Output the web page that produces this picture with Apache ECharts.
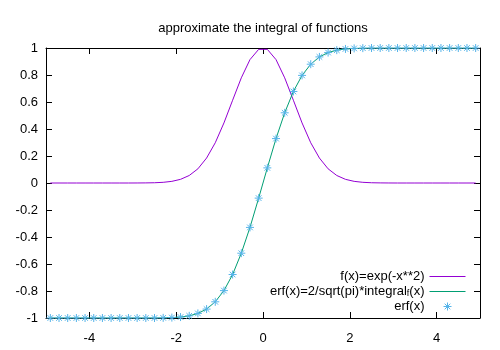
<!DOCTYPE html>
<html><head><meta charset="utf-8">
<script src="https://cdn.jsdelivr.net/npm/echarts@6/dist/echarts.min.js"></script>
<style>html,body{margin:0;padding:0;background:#fff}#c{width:500px;height:350px}</style>
</head><body><div id="c"></div>
<script>
const xs = [-4.9,-4.7,-4.5,-4.3,-4.1,-3.9,-3.7,-3.5,-3.3,-3.1,-2.9,-2.7,-2.5,-2.3,-2.1,-1.9,-1.7,-1.5,-1.3,-1.1,-0.9,-0.7,-0.5,-0.3,-0.1,
            0.1,0.3,0.5,0.7,0.9,1.1,1.3,1.5,1.7,1.9,2.1,2.3,2.5,2.7,2.9,3.1,3.3,3.5,3.7,3.9,4.1,4.3,4.5,4.7,4.9];
const fVals = [0,0,0,0,0,0,0,0,0,0,0.0002,0.0007,0.0019,0.005,0.0122,0.0271,0.0556,0.105,0.185,0.298,0.445,0.613,0.779,0.914,0.990,
               0.990,0.914,0.779,0.613,0.445,0.298,0.185,0.105,0.0556,0.0271,0.0122,0.005,0.0019,0.0007,0.0002,0,0,0,0,0,0,0,0,0,0];
const erfLineVals = [-1,-1,-1,-1,-1,-1,-1,-1,-1,-1,-1,-1,-1,-0.999,-0.997,-0.993,-0.984,-0.966,-0.934,-0.880,-0.797,-0.678,-0.520,-0.329,-0.112,
                     0.112,0.329,0.520,0.678,0.797,0.880,0.934,0.966,0.984,0.993,0.997,0.999,1,1,1,1,1,1,1,1,1,1,1,1,1];
const erfPtVals = [-1,-1,-1,-1,-1,-1,-1,-1,-1,-1,-1,-1,-1,-0.999,-0.997,-0.993,-0.984,-0.966,-0.934,-0.880,-0.797,-0.678,-0.520,-0.329,-0.112,
                   0.112,0.329,0.520,0.678,0.797,0.880,0.934,0.966,0.984,0.993,0.997,0.999,1,1,1,1,1,1,1,1,1,1,1,1,1];
const xTicks = [-4,-2,0,2,4];
const yTicks = [-1,-0.8,-0.6,-0.4,-0.2,0,0.2,0.4,0.6,0.8,1];
const seriesNames = ['f(x)=exp(-x**2)','erf(x)=2/sqrt(pi)*integral_f(x)','erf(x)'];
const titleText = 'approximate the integral of functions';

const FONT = 'Liberation Sans, Arial, sans-serif';
const FS = 13;
const pair = v => xs.map((x,i)=>[x,v[i]]);
const star = 'path://M4,0L4,8M0,4L8,4M1.2,1.2L6.8,6.8M1.2,6.8L6.8,1.2';

function xAx(pos, labels){
  return {type:'value', min:-5, max:5, position:pos,
    axisLine:{onZero:false, lineStyle:{color:'#000', width:1}},
    axisTick:{inside:true, length:6, customValues:xTicks, lineStyle:{color:'#000'}},
    axisLabel:{show:labels, customValues:xTicks, color:'#000', fontSize:FS, fontFamily:FONT, margin:14},
    splitLine:{show:false}};
}
function yAx(pos, labels){
  return {type:'value', min:-1, max:1, position:pos,
    axisLine:{onZero:false, lineStyle:{color:'#000', width:1}},
    axisTick:{inside:true, length:6, customValues:yTicks, lineStyle:{color:'#000'}},
    axisLabel:{show:labels, customValues:yTicks, color:'#000', fontSize:FS, fontFamily:FONT, margin:8,
      formatter: v => String(Math.round(v*10)/10)},
    splitLine:{show:false}};
}

const chart = echarts.init(document.getElementById('c'), null, {renderer:'canvas'});
chart.setOption({
  animation:false,
  backgroundColor:'#fff',
  title:{text:titleText, left:263, textAlign:'center', top:22, padding:0,
    textStyle:{fontSize:FS, fontWeight:'normal', color:'#000', fontFamily:FONT}},
  grid:{left:46, right:20, top:48, bottom:32, containLabel:false},
  xAxis:[xAx('bottom', true), xAx('top', false)],
  yAxis:[yAx('left', true), yAx('right', false)],
  legend:{orient:'vertical', align:'right', right:29, top:265, itemWidth:36, itemHeight:10, itemGap:2,
    lineStyle:{width:1},
    data:[
      {name:seriesNames[0], itemStyle:{opacity:0}},
      {name:seriesNames[1], itemStyle:{opacity:0}},
      {name:seriesNames[2], itemStyle:{color:'transparent', borderColor:'#56b4e9', borderWidth:1}}
    ],
    textStyle:{fontSize:FS, color:'#000', fontFamily:FONT,
      rich:{s:{fontSize:9, fontFamily:FONT, color:'#000', padding:[4,0,0,0]}}},
    formatter: n => n.replace('_f', '{s|f}')},
  series:[
    {name:seriesNames[0], type:'line', data:pair(fVals), symbol:'none', showSymbol:false, z:2,
      lineStyle:{color:'#9400d3', width:1}, itemStyle:{color:'#9400d3'}},
    {name:seriesNames[1], type:'line', data:pair(erfLineVals), symbol:'none', showSymbol:false, z:3,
      lineStyle:{color:'#009e73', width:1}, itemStyle:{color:'#009e73'}},
    {name:seriesNames[2], type:'line', data:pair(erfPtVals), symbol:star, symbolSize:8, showSymbol:true, z:4,
      lineStyle:{width:0, opacity:0},
      itemStyle:{color:'transparent', borderColor:'#56b4e9', borderWidth:1}}
  ]
});
</script></body></html>
